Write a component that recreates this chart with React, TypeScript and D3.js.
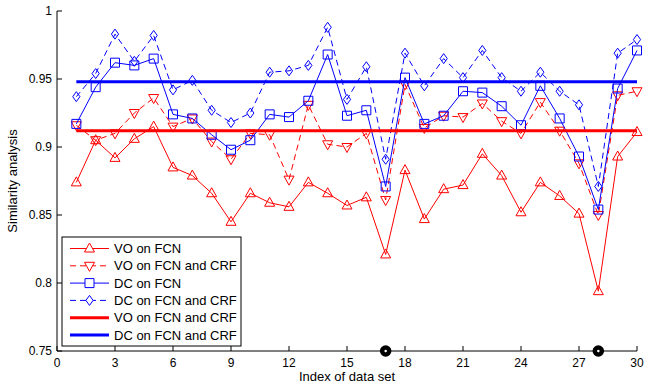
import * as d3 from 'd3'

const IDX = d3.range(1, 31)
const VO_FCN = [0.874, 0.905, 0.892, 0.906, 0.915, 0.885, 0.879, 0.866, 0.845, 0.866, 0.859, 0.856, 0.874, 0.866, 0.857, 0.863, 0.821, 0.883, 0.847, 0.869, 0.872, 0.895, 0.879, 0.852, 0.874, 0.864, 0.851, 0.794, 0.893, 0.911]
const VO_CRF = [0.916, 0.905, 0.910, 0.925, 0.936, 0.915, 0.921, 0.904, 0.891, 0.910, 0.909, 0.876, 0.931, 0.902, 0.900, 0.910, 0.861, 0.946, 0.914, 0.923, 0.922, 0.932, 0.919, 0.910, 0.933, 0.912, 0.888, 0.850, 0.938, 0.941]
const DC_FCN = [0.917, 0.944, 0.962, 0.960, 0.965, 0.924, 0.921, 0.909, 0.898, 0.905, 0.924, 0.922, 0.934, 0.968, 0.923, 0.927, 0.871, 0.951, 0.917, 0.923, 0.941, 0.940, 0.930, 0.916, 0.945, 0.921, 0.893, 0.854, 0.943, 0.971]
const DC_CRF = [0.937, 0.954, 0.983, 0.963, 0.982, 0.942, 0.949, 0.927, 0.918, 0.925, 0.955, 0.956, 0.960, 0.988, 0.935, 0.959, 0.891, 0.969, 0.945, 0.965, 0.951, 0.971, 0.951, 0.941, 0.955, 0.941, 0.931, 0.871, 0.969, 0.979]
const VO_MEAN = 0.912
const DC_MEAN = 0.948
const MARKED = [17, 28]
const X_TICKS = d3.range(0, 31, 3)
const Y_TICKS = [0.75, 0.8, 0.85, 0.9, 0.95, 1]

const FONT = '"Liberation Sans", Arial, sans-serif'
const RED = '#ff0000'
const BLUE = '#0000ff'

// marker shapes around (0,0)
const MARK = {
  up: 'M0,-5.5L5,3.5L-5,3.5Z',
  down: 'M0,5.5L5,-3.5L-5,-3.5Z',
  square: 'M-4.5,-4.5H4.5V4.5H-4.5Z',
  diamond: 'M0,-5L3.6,0L0,5L-3.6,0Z',
}

type Series = { name: string, values: number[] | null, mean?: number, color: string, dash?: string, mark?: keyof typeof MARK, width: number }

const SERIES: Series[] = [
  { name: 'VO on FCN', values: VO_FCN, color: RED, mark: 'up', width: 1 },
  { name: 'VO on FCN and CRF', values: VO_CRF, color: RED, dash: '6,4', mark: 'down', width: 1 },
  { name: 'DC on FCN', values: DC_FCN, color: BLUE, mark: 'square', width: 1 },
  { name: 'DC on FCN and CRF', values: DC_CRF, color: BLUE, dash: '6,4', mark: 'diamond', width: 1 },
  { name: 'VO on FCN and CRF', values: null, mean: VO_MEAN, color: RED, width: 3 },
  { name: 'DC on FCN and CRF', values: null, mean: DC_MEAN, color: BLUE, width: 3 },
]

export default function App() {
  const W = 645, H = 390
  const m = { left: 57, right: 8, top: 11, bottom: 39 }
  const x = d3.scaleLinear().domain([0, 30]).range([m.left, W - m.right])
  const y = d3.scaleLinear().domain([0.75, 1]).range([H - m.bottom, m.top])
  const line = d3.line<number>().x((_, i) => x(IDX[i])).y(v => y(v))
  const y0 = y(0.75)

  const legend = { x: 62, y: 237, w: 179, h: 109, row: 17.3 }

  return (
    <svg width={W} height={H} style={{ position: 'absolute', left: 0, top: 0, background: '#fff' }} fontFamily={FONT}>
      {/* series */}
      {SERIES.map((s, si) => s.values ? (
        <g key={si}>
          <path d={line(s.values) || ''} fill="none" stroke={s.color} strokeWidth={s.width} strokeDasharray={s.dash} />
          {s.values.map((v, i) => (
            <path key={i} d={MARK[s.mark!]} transform={`translate(${x(IDX[i])},${y(v)})`} fill="none" stroke={s.color} strokeWidth={1} />
          ))}
        </g>
      ) : (
        <line key={si} x1={x(1)} x2={x(30)} y1={y(s.mean!)} y2={y(s.mean!)} stroke={s.color} strokeWidth={s.width} />
      ))}

      {/* axes */}
      <line x1={x(0)} x2={x(30)} y1={y0} y2={y0} stroke="#000" />
      <line x1={x(0)} x2={x(0)} y1={y(0.75)} y2={y(1)} stroke="#000" />
      {X_TICKS.map(t => (
        <g key={t}>
          <line x1={x(t)} x2={x(t)} y1={y0} y2={y0 - 5} stroke="#000" />
          <text x={x(t)} y={y0 + 16} fontSize={12} textAnchor="middle">{t}</text>
        </g>
      ))}
      {Y_TICKS.map(t => (
        <g key={t}>
          <line x1={x(0)} x2={x(0) + 5} y1={y(t)} y2={y(t)} stroke="#000" />
          <text x={x(0) - 5} y={y(t) + 4} fontSize={12} textAnchor="end">{t}</text>
        </g>
      ))}
      <text x={(x(0) + x(30)) / 2} y={381} fontSize={13} textAnchor="middle">Index of data set</text>
      <text transform={`translate(17,${(y(0.75) + y(1)) / 2}) rotate(-90)`} fontSize={13} textAnchor="middle">Similarity analysis</text>

      {/* marked indices */}
      {MARKED.map(k => (
        <circle key={k} cx={x(k)} cy={y0} r={3.5} fill="#fff" stroke="#000" strokeWidth={4.5} />
      ))}

      {/* legend */}
      <rect x={legend.x} y={legend.y} width={legend.w} height={legend.h} fill="#fff" stroke="#000" />
      {SERIES.map((s, i) => {
        const ly = legend.y + 11.5 + i * legend.row
        return (
          <g key={i}>
            <line x1={legend.x + 8} x2={legend.x + 47} y1={ly} y2={ly} stroke={s.color} strokeWidth={s.width} strokeDasharray={s.dash} />
            {s.mark && <path d={MARK[s.mark]} transform={`translate(${legend.x + 27.5},${ly})`} fill="#fff" stroke={s.color} />}
            <text x={legend.x + 52} y={ly + 4.5} fontSize={13}>{s.name}</text>
          </g>
        )
      })}
    </svg>
  )
}
